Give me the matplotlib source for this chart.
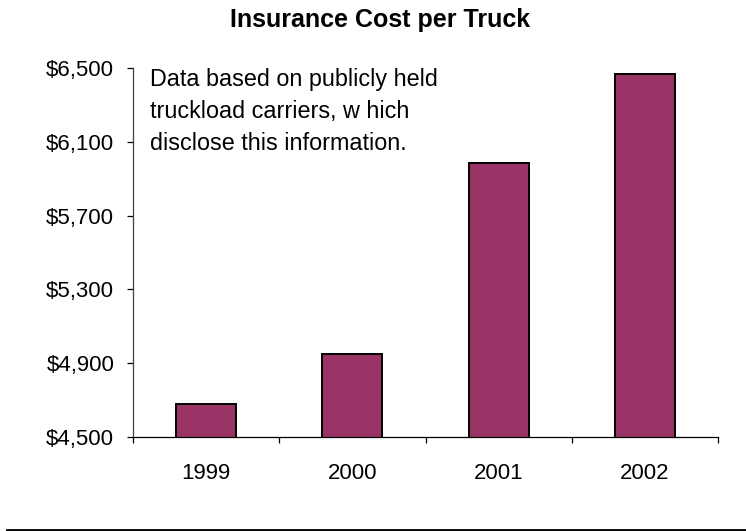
import numpy as np
import matplotlib.pyplot as plt
from matplotlib.lines import Line2D
from matplotlib.ticker import FuncFormatter

plt.rcParams['font.family'] = ['Liberation Sans', 'DejaVu Sans']

years = ['1999', '2000', '2001', '2002']
cost = [4680, 4950, 5985, 6465]
y_ticks = [4500, 4900, 5300, 5700, 6100, 6500]
title = 'Insurance Cost per Truck'
note = ('Data based on publicly held\n'
        'truckload carriers, w hich\n'
        'disclose this information.')

W, H = 746, 531
fig = plt.figure(figsize=(W / 100, H / 100), dpi=100)
ax = fig.add_axes([133 / W, 1 - 437 / H, 585 / W, 369 / H])

x = np.arange(len(years))
ax.bar(x, cost, width=0.41, color='#993366', edgecolor='black', linewidth=1.4)

ax.set_xlim(-0.5, len(years) - 0.5)
ax.set_ylim(4500, 6500)
ax.set_yticks(y_ticks)
ax.yaxis.set_major_formatter(FuncFormatter(lambda v, p: f'${v:,.0f}'))
ax.set_xticks(x)
ax.set_xticklabels(years)
# tick marks sit on the category boundaries, labels in the middle
ax.set_xticks(np.arange(len(years) + 1) - 0.5, minor=True)
ax.tick_params(axis='x', which='major', length=0, pad=19, labelsize=16)
ax.tick_params(axis='x', which='minor', length=4.5, width=0.9, direction='out')
ax.tick_params(axis='y', length=4.5, width=0.9, direction='out', pad=9,
               labelsize=16)

for side in ['top', 'right']:
    ax.spines[side].set_visible(False)
ax.spines['left'].set_linewidth(0.9)
ax.spines['bottom'].set_linewidth(0.9)
ax.spines['left'].set_color('#404040')

ax.text(150 / W, 1 - 68 / H, note, transform=fig.transFigure, fontsize=16.8,
        ha='left', va='top', linespacing=1.5)

fig.text(380 / W, 1 - 19.5 / H, title, fontsize=18, fontweight='bold',
         ha='center', va='center')

fig.add_artist(Line2D([7 / W, 1.0], [1 - 529.5 / H, 1 - 529.5 / H],
                      transform=fig.transFigure, color='black', linewidth=2))

fig.savefig('out.png', dpi=100)
